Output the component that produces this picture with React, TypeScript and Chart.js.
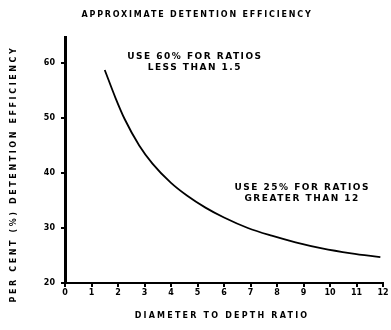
import React, { useEffect, useRef } from "react";
import { Chart, registerables } from "chart.js";

Chart.register(...registerables);

const titleText = "APPROXIMATE DETENTION EFFICIENCY";
const yTitle = "PER CENT (%) DETENTION EFFICIENCY";
const xTitle = "DIAMETER TO DEPTH RATIO";
const xTicks = [0, 1, 2, 3, 4, 5, 6, 7, 8, 9, 10, 11, 12];
const yTicks = [20, 30, 40, 50, 60];
const ratio = [1.5, 1.9, 2.25, 2.8, 3.3, 4.0, 4.6, 5.3, 6.0, 6.9, 7.8, 8.7, 9.7, 10.8, 11.9];
const efficiency = [58.7, 53.7, 49.8, 45.0, 41.7, 38.2, 35.9, 33.7, 31.9, 30.0, 28.6, 27.4, 26.3, 25.4, 24.7];
const note1 = ["USE 60% FOR RATIOS", "LESS THAN 1.5"];
const note1At = [4.9, 61.2];
const note2 = ["USE 25% FOR RATIOS", "GREATER THAN 12"];
const note2At = [8.95, 37.4];

const FONT = "'DejaVu Sans', sans-serif";

function spaced(ctx: CanvasRenderingContext2D, text: string, x: number, y: number, spacing: number) {
  (ctx as any).letterSpacing = spacing + "px";
  ctx.fillText(text, x, y);
  (ctx as any).letterSpacing = "0px";
}

const textPlugin = {
  id: "texts",
  afterDraw(chart: any) {
    const ctx: CanvasRenderingContext2D = chart.ctx;
    const xs = chart.scales.x;
    const ys = chart.scales.y;
    ctx.save();
    ctx.fillStyle = "#000";
    ctx.textAlign = "center";
    ctx.textBaseline = "middle";
    ctx.font = "bold 8px " + FONT;
    spaced(ctx, titleText, 197, 15, 1.8);
    spaced(ctx, xTitle, 222, 316, 2.2);
    ctx.save();
    ctx.translate(14, 174);
    ctx.rotate(-Math.PI / 2);
    spaced(ctx, yTitle, 0, 0, 2.6);
    ctx.restore();
    ctx.font = "bold 9px " + FONT;
    const drawNote = (lines: string[], at: number[]) => {
      const px = xs.getPixelForValue(at[0]);
      const py = ys.getPixelForValue(at[1]);
      lines.forEach((l, i) => spaced(ctx, l, px, py + i * 11, 1.5));
    };
    drawNote(note1, note1At);
    drawNote(note2, note2At);
    ctx.restore();
  },
};

export default function App() {
  const ref = useRef<HTMLCanvasElement>(null);
  useEffect(() => {
    if (!ref.current) return;
    const chart = new Chart(ref.current, {
      type: "scatter",
      data: {
        datasets: [
          {
            data: ratio.map((r, i) => ({ x: r, y: efficiency[i] })),
            showLine: true,
            borderColor: "#000",
            borderWidth: 1.8,
            pointRadius: 0,
            cubicInterpolationMode: "monotone",
            fill: false,
          },
        ],
      },
      options: {
        animation: false,
        responsive: false,
        maintainAspectRatio: false,
        layout: { padding: { top: 37, right: 8, left: 0, bottom: 0 } },
        plugins: { legend: { display: false }, tooltip: { enabled: false } },
        scales: {
          x: {
            type: "linear",
            min: 0,
            max: 12,
            afterFit: (s: any) => { s.height = 47; },
            afterBuildTicks: (s: any) => { s.ticks = xTicks.map((v) => ({ value: v })); },
            grid: { display: true, drawOnChartArea: false, drawTicks: true, tickLength: 4, color: "#000", lineWidth: 2 },
            border: { display: true, color: "#000", width: 2 },
            ticks: { color: "#000", font: { family: FONT, size: 8, weight: "bold" }, padding: 1, maxRotation: 0, autoSkip: false },
          },
          y: {
            type: "linear",
            min: 20,
            max: 64.7,
            afterFit: (s: any) => { s.width = 65; },
            afterBuildTicks: (s: any) => { s.ticks = yTicks.map((v) => ({ value: v })); },
            grid: { display: true, drawOnChartArea: false, drawTicks: true, tickLength: 4, color: "#000", lineWidth: 2 },
            border: { display: true, color: "#000", width: 3 },
            ticks: { color: "#000", font: { family: FONT, size: 8, weight: "bold" }, padding: 6 },
          },
        },
      },
      plugins: [textPlugin],
    });
    return () => chart.destroy();
  }, []);
  return (
    <div style={{ position: "fixed", left: 0, top: 0, width: 391, height: 330, background: "#fff" }}>
      <canvas ref={ref} width={391} height={330} style={{ width: 391, height: 330 }} />
    </div>
  );
}
